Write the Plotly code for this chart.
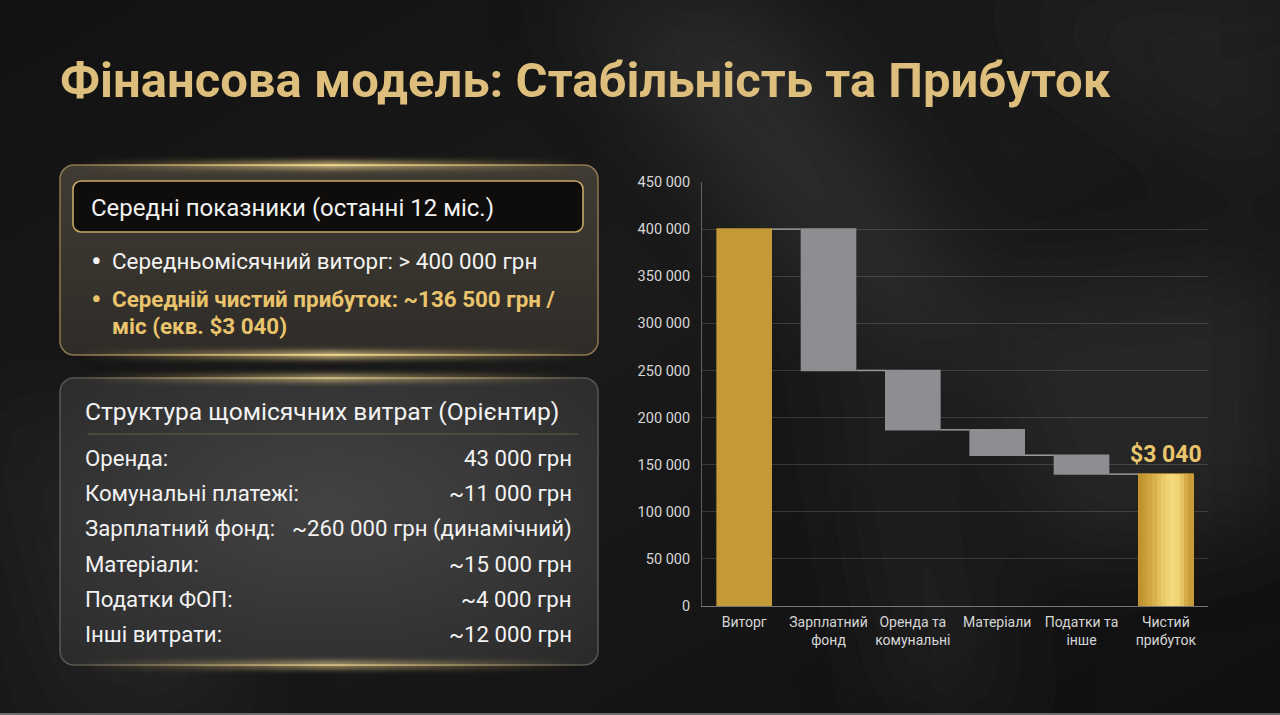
import base64
import plotly.graph_objects as go

# ---------------- data ----------------
categories = ["Виторг", "Зарплатний<br>фонд", "Оренда та<br>комунальні", "Матеріали",
              "Податки та<br>інше", "Чистий<br>прибуток"]
measures = ["absolute", "relative", "relative", "relative", "relative", "total"]
values = [400000, -150000, -63000, -27000, -20000, 0]
profit_label = "$3 040"

y_ticks = [0, 50000, 100000, 150000, 200000, 250000, 300000, 350000, 400000, 450000]

title_text = "Фінансова модель: Стабільність та Прибуток"
panel1_header = "Середні показники (останні 12 міс.)"
panel1_bullet1 = "Середньомісячний виторг: > 400 000 грн"
panel1_bullet2 = ["Середній чистий прибуток: ~136 500 грн /", "міс (екв. $3 040)"]
panel2_header = "Структура щомісячних витрат (Орієнтир)"
expense_labels = ["Оренда:", "Комунальні платежі:", "Зарплатний фонд:", "Матеріали:",
                  "Податки ФОП:", "Інші витрати:"]
expense_values = ["43 000 грн", "~11 000 грн", "~260 000 грн (динамічний)", "~15 000 грн",
                  "~4 000 грн", "~12 000 грн"]

# ---------------- styling ----------------
W, H = 1280, 715
FONT = "Roboto"
GOLD = "#C39A35"
GRAY = "#8E8E92"
BAR_W = 0.66
WHITE = "#F2F2F2"
GOLD_TXT = "#E9C46C"


def px(x):
    return x / W


def py(y):
    return 1 - y / H


svg = f'''<svg xmlns="http://www.w3.org/2000/svg" width="{W}" height="{H}" viewBox="0 0 {W} {H}">
<defs>
 <linearGradient id="bg" x1="0" y1="0" x2="1" y2="1">
  <stop offset="0" stop-color="#121212"/>
  <stop offset="0.45" stop-color="#1a1a1a"/>
  <stop offset="1" stop-color="#101010"/>
 </linearGradient>
 <filter id="b40" x="-50%" y="-50%" width="200%" height="200%"><feGaussianBlur stdDeviation="45"/></filter>
 <filter id="b3" x="-10%" y="-300%" width="120%" height="700%"><feGaussianBlur stdDeviation="3"/></filter>
 <linearGradient id="p1" x1="0" y1="0" x2="0" y2="1">
  <stop offset="0" stop-color="#403b33"/>
  <stop offset="1" stop-color="#2f2c28"/>
 </linearGradient>
 <radialGradient id="p2" cx="0.5" cy="0.45" r="0.75">
  <stop offset="0" stop-color="#464646"/>
  <stop offset="1" stop-color="#2b2b2b"/>
 </radialGradient>
 <linearGradient id="glow" x1="0" y1="0" x2="1" y2="0">
  <stop offset="0" stop-color="#d9b86a" stop-opacity="0"/>
  <stop offset="0.5" stop-color="#f6dc93" stop-opacity="1"/>
  <stop offset="1" stop-color="#d9b86a" stop-opacity="0"/>
 </linearGradient>
</defs>
<rect width="{W}" height="{H}" fill="url(#bg)"/>
<g filter="url(#b40)" opacity="0.55">
 <path d="M 560 0 L 760 0 L 1000 330 L 880 360 Z" fill="#3a3a3a"/>
 <path d="M 1000 0 L 1280 0 L 1280 200 Z" fill="#2c2c2c"/>
 <path d="M 950 300 L 1280 260 L 1280 520 L 1050 560 Z" fill="#353535"/>
 <path d="M 0 420 L 60 400 L 260 715 L 80 715 Z" fill="#2e2e2e"/>
 <path d="M 840 380 L 930 380 L 1010 715 L 900 715 Z" fill="#2a2a2a"/>
</g>
<rect x="60" y="165" width="538" height="190" rx="14" fill="url(#p1)" stroke="#8d7850" stroke-width="1.5"/>
<rect x="80" y="162" width="500" height="6" fill="url(#glow)" filter="url(#b3)"/>
<rect x="80" y="164.5" width="500" height="1.5" fill="url(#glow)"/>
<rect x="80" y="352" width="500" height="6" fill="url(#glow)" filter="url(#b3)"/>
<rect x="80" y="354" width="500" height="1.5" fill="url(#glow)"/>
<rect x="73" y="181" width="510" height="51" rx="8" fill="#0e0d0b" stroke="#c9a866" stroke-width="1.6"/>
<rect x="60" y="378" width="538" height="287" rx="14" fill="url(#p2)" stroke="#5e5a52" stroke-width="1.5" opacity="0.95"/>
<rect x="80" y="375" width="500" height="6" fill="url(#glow)" filter="url(#b3)" opacity="0.8"/>
<rect x="80" y="377.5" width="500" height="1.2" fill="url(#glow)" opacity="0.8"/>
<rect x="80" y="662" width="500" height="6" fill="url(#glow)" filter="url(#b3)" opacity="0.8"/>
<rect x="80" y="664.5" width="500" height="1.2" fill="url(#glow)" opacity="0.8"/>
<line x1="88" y1="434" x2="578" y2="434" stroke="#8c7a58" stroke-width="1" opacity="0.6"/>
<rect x="0" y="713" width="{W}" height="2" fill="#6a6a6a"/>
</svg>'''
bg_uri = "data:image/svg+xml;base64," + base64.b64encode(svg.encode("utf-8")).decode("ascii")

fig = go.Figure()

fig.add_trace(go.Waterfall(
    x=categories, y=values, measure=measures, width=BAR_W,
    increasing=dict(marker=dict(color=GOLD, line=dict(width=0))),
    decreasing=dict(marker=dict(color=GRAY, line=dict(width=0))),
    totals=dict(marker=dict(color=GOLD, line=dict(width=0))),
    connector=dict(mode="between", line=dict(color="#9a9a9a", width=1.5)),
    hoverinfo="skip", showlegend=False,
))

# gradient overlay on the net-profit bar (vertical strips)
net_profit = sum(values[:-1])
strip_colors = ["#C2932F", "#C99C36", "#D1A640", "#D9B14C", "#E2BE5A", "#EACA69",
                "#F0D474", "#F3D97B", "#F0D474", "#E4C260", "#D4AC47", "#C89C38"]
n = len(strip_colors)
sw = BAR_W / n
for i, c in enumerate(strip_colors):
    fig.add_trace(go.Bar(
        x=[categories[-1]], y=[net_profit], base=[0],
        width=sw * 1.15, offset=-BAR_W / 2 + i * sw if i < n - 1 else -BAR_W / 2 + i * sw - sw * 0.15,
        marker=dict(color=c, line=dict(width=0)),
        hoverinfo="skip", showlegend=False,
    ))


def txt(x, y, text, size, color=WHITE, anchor="left", bold=False):
    return dict(x=px(x), y=py(y), xref="paper", yref="paper",
                text=f"<b>{text}</b>" if bold else text,
                showarrow=False, xanchor=anchor, yanchor="middle",
                font=dict(family=FONT, size=size, color=color))


annotations = []
annotations.append(dict(x=categories[-1], y=net_profit, xref="x", yref="y",
                        text=f"<b>{profit_label}</b>", showarrow=False,
                        yanchor="bottom", yshift=4,
                        font=dict(family=FONT, size=23, color="#EBC56B")))

annotations.append(txt(58, 81, title_text, 49, "#DDBE7C", bold=True))
annotations.append(txt(89, 208, panel1_header, 24))
annotations.append(txt(96, 261, "•", 32, anchor="center"))
annotations.append(txt(110, 261, panel1_bullet1, 22.4))
annotations.append(txt(96, 299, "•", 32, GOLD_TXT, anchor="center"))
annotations.append(txt(110, 299, panel1_bullet2[0], 22.4, GOLD_TXT, bold=True))
annotations.append(txt(110, 326, panel1_bullet2[1], 22.4, GOLD_TXT, bold=True))
annotations.append(txt(83, 411, panel2_header, 24.6))
for i, (lab, val) in enumerate(zip(expense_labels, expense_values)):
    yy = 458 + i * 35.2
    annotations.append(txt(83, yy, lab, 22.2))
    annotations.append(txt(574, yy, val, 22.2, anchor="right"))

fig.update_layout(
    width=W, height=H,
    margin=dict(l=0, r=0, t=0, b=0, pad=0, autoexpand=False),
    paper_bgcolor="#141414", plot_bgcolor="rgba(0,0,0,0)",
    barmode="overlay", bargap=0,
    separators=". ",
    showlegend=False,
    images=[dict(source=bg_uri, xref="paper", yref="paper", x=0, y=1, sizex=1, sizey=1,
                 sizing="stretch", layer="below", xanchor="left", yanchor="top")],
    annotations=annotations,
    xaxis=dict(domain=[px(702), px(1208)], type="category", categoryorder="array",
               categoryarray=categories, showgrid=False, zeroline=False, automargin=False,
               showline=True, linecolor="rgba(200,200,200,0.55)", linewidth=1,
               ticks="", tickfont=dict(family=FONT, size=14, color="#D6D6D6"),
               ticklabelstandoff=3),
    yaxis=dict(domain=[py(606), py(182)], range=[0, 450000], tickvals=y_ticks, automargin=False,
               tickformat=",d", showgrid=True, gridcolor="rgba(255,255,255,0.14)", gridwidth=1,
               zeroline=False, showline=True, linecolor="rgba(200,200,200,0.4)", linewidth=1,
               ticks="", tickfont=dict(family=FONT, size=14.5, color="#D6D6D6"),
               ticklabelstandoff=8),
)

fig.write_html("out.html", config={"displayModeBar": False},
               post_script="document.body.style.margin='0';document.body.style.overflow='hidden';document.body.style.background='#141414';")
